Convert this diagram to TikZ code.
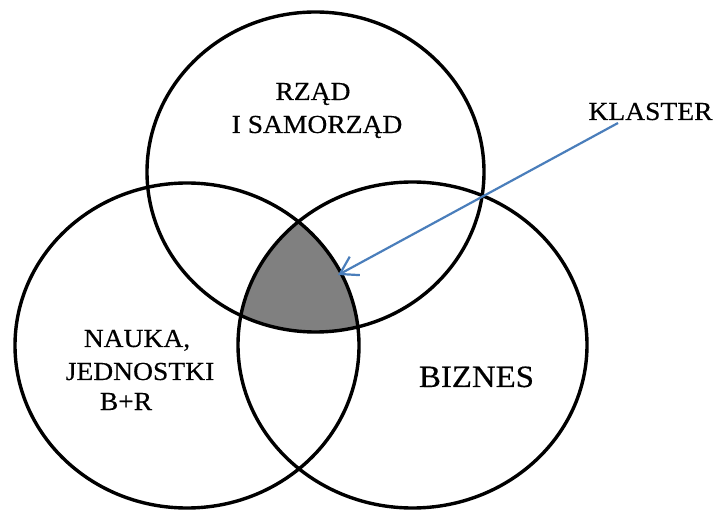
\documentclass[tikz,border=0pt]{standalone}
\usepackage{fontspec}
\setmainfont[FakeStretch=1.06,FakeBold=0.4]{Liberation Serif}
\usetikzlibrary{arrows.meta}
\definecolor{arrowblue}{HTML}{4A7EBB}
\definecolor{coregray}{HTML}{808080}
\begin{document}
\begin{tikzpicture}[x=1pt,y=-1pt,
  ring/.style={line width=3.4pt, draw=black},
  lbl/.style={font=\fontsize{26}{30}\selectfont, inner sep=0pt, anchor=base, text=black},
  biglbl/.style={lbl, font=\fontsize{31}{36}\selectfont},
  pointer/.style={draw=arrowblue, line width=2.2pt, -{Straight Barb[length=17pt,width=21pt]}}
]
\useasboundingbox (0,0) rectangle (720,510);
\coordinate (ctop) at (315.5,172);
\coordinate (cleft) at (187,345.5);
\coordinate (cright) at (412.5,345);
% shaded common part
\begin{scope}
  \clip (ctop) ellipse [x radius=168.5, y radius=160];
  \clip (cleft) ellipse [x radius=172, y radius=162.5];
  \fill[coregray] (cright) ellipse [x radius=174.5, y radius=163];
\end{scope}
% rings
\draw[ring] (ctop) ellipse [x radius=168.5, y radius=160];
\draw[ring] (cleft) ellipse [x radius=172, y radius=162.5];
\draw[ring] (cright) ellipse [x radius=174.5, y radius=163];
% labels
\node[lbl] (rzad1) at (313,100) {RZĄD};
\node[lbl] (rzad2) at (317,133) {I SAMORZĄD};
\node[lbl] (nauka1) at (137,347) {NAUKA,};
\node[lbl] (nauka2) at (140,380) {JEDNOSTKI};
\node[lbl] (nauka3) at (126,410) {B+R};
\node[biglbl] (biznes) at (476.5,387) {BIZNES};
\node[lbl] (klaster) at (650.5,120) {KLASTER};
% arrow
\coordinate (ktail) at (618,123);
\coordinate (ktip) at (338,275);
\draw[pointer] (ktail) -- (ktip);
\end{tikzpicture}
\end{document}
